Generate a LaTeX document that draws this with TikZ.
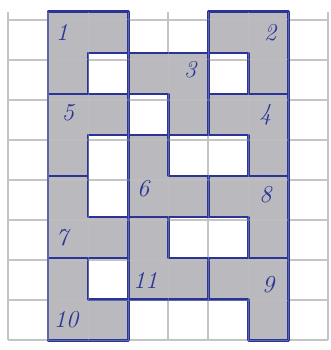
\documentclass[tikz,border=0pt]{standalone}
\usepackage[dvipsnames]{xcolor}
\usepackage{tikz}
\usetikzlibrary{positioning}
\definecolor{pencil}{RGB}{186,186,190}
\definecolor{ink}{RGB}{42,52,150}
\definecolor{paper}{RGB}{196,196,196}
\begin{document}
\begin{tikzpicture}[x=1cm,y=1.025cm,
    piece/.style={fill=pencil,draw=ink,line width=2pt,line join=round},
    num/.style={ink,font=\LARGE\itshape}]
      \useasboundingbox (-0.2,-0.24) rectangle (8.05,8.29);
      \fill[white] (-0.2,-0.24) rectangle (8.05,8.29);
      \draw[paper,line width=1.1pt] (0,0) grid (8,8);

      % top pieces
      \draw[piece] (1,8) -- (3,8) -- (3,7) -- (2,7) -- (2,6) -- (1,6) -- cycle;
      \draw[piece] (5,8) -- (7,8) -- (7,6) -- (6,6) -- (6,7) -- (5,7) -- cycle;
      \draw[piece] (3,7) -- (5,7) -- (5,5) -- (4,5) -- (4,6) -- (3,6) -- cycle;
      \draw[piece] (5,6) -- (7,6) -- (7,4) -- (6,4) -- (6,5) -- (5,5) -- cycle;
      \draw[piece] (1,6) -- (3,6) -- (3,5) -- (2,5) -- (2,4) -- (1,4) -- cycle;
      \draw[piece] (3,5) -- (4,5) -- (4,4) -- (5,4) -- (5,3) -- (3,3) -- cycle;

      % bottom pieces
      \draw[piece] (1,4) -- (2,4) -- (2,3) -- (3,3) -- (3,2) -- (1,2) -- cycle;
      \draw[piece] (5,4) -- (7,4) -- (7,2) -- (6,2) -- (6,3) -- (5,3) -- cycle;
      \draw[piece] (5,2) -- (7,2) -- (7,0) -- (6,0) -- (6,1) -- (5,1) -- cycle;
      \draw[piece] (1,2) -- (2,2) -- (2,1) -- (3,1) -- (3,0) -- (1,0) -- cycle;
      \draw[piece] (3,3) -- (4,3) -- (4,2) -- (5,2) -- (5,1) -- (3,1) -- cycle;

      % faint squares showing through the shading
      \draw[paper,line width=0.8pt,opacity=.35] (1,0) grid (7,8);

      \node[num] (n1) at (1.35,7.49) {1};
      \node[num] (n2) at (6.55,7.49) {2};
      \node[num] (n3) at (4.55,6.59) {3};
      \node[num] (n4) at (6.43,5.49) {4};
      \node[num] (n5) at (1.5,5.54) {5};
      \node[num] (n6) at (3.38,3.7) {6};
      \node[num] (n7) at (1.35,2.49) {7};
      \node[num] (n8) at (6.43,3.54) {8};
      \node[num] (n9) at (6.5,1.34) {9};
      \node[num] (n10) at (1.45,0.49) {10};
      \node[num] (n11) at (3.43,1.46) {11};
\end{tikzpicture}
\end{document}
